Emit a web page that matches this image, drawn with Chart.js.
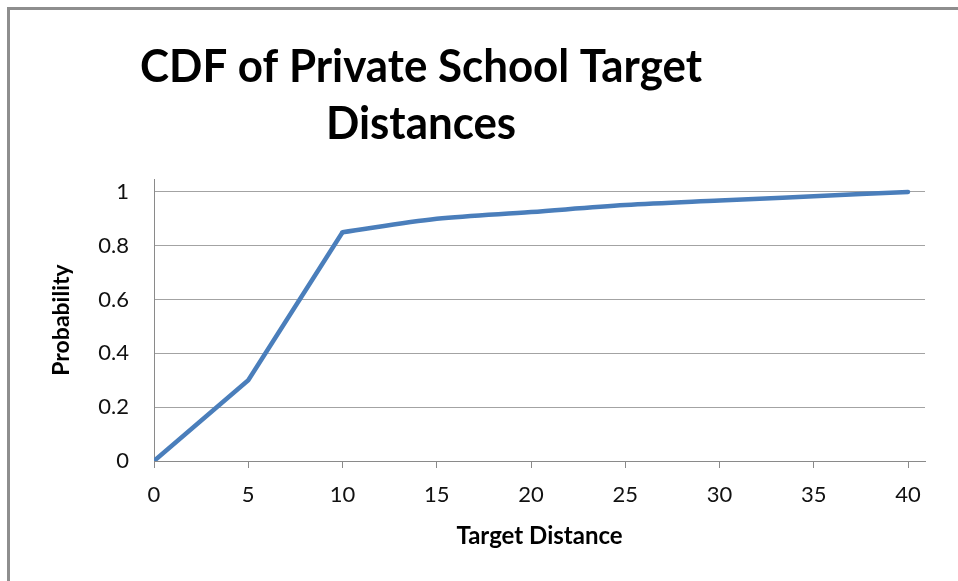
<!DOCTYPE html>
<html>
<head>
<meta charset="utf-8">
<title>CDF of Private School Target Distances</title>
<script src="https://cdn.jsdelivr.net/npm/chart.js@4"></script>
<style>
  html, body { margin: 0; padding: 0; background: #fff; }
  #frame {
    position: absolute; left: 7px; top: 7px; width: 951px; height: 574px;
    border-top: 3px solid #8e8e8e; border-left: 3px solid #8e8e8e;
  }
  #wrap { position: absolute; left: 0; top: 0; width: 958px; height: 581px; }
</style>
</head>
<body>
<div id="frame"></div>
<div id="wrap"><canvas id="cdfChart"></canvas></div>
<script>
const distances = [0, 5, 10, 15, 20, 25, 30, 35, 40];
const probabilities = [0, 0.30, 0.85, 0.90, 0.925, 0.951, 0.968, 0.984, 1.0];
const xTicks = [0, 5, 10, 15, 20, 25, 30, 35, 40];
const yTicks = [0, 0.2, 0.4, 0.6, 0.8, 1];
const titleLines = ['CDF of Private School Target', 'Distances'];

const FONT = 'Lato';
const tickFont = { family: FONT, size: 22 };
const LINE_BLUE = '#4a7ebb';

// steep part is straight, the tail after the knee (index 2) is smoothed
const points = distances.map((d, i) => ({ x: d, y: probabilities[i] }));
const KNEE = 2;

// two-line bold title, squeezed slightly so it keeps the narrow look
const titlePlugin = {
  id: 'cdfTitle',
  afterDraw(chart) {
    const c = chart.ctx;
    c.save();
    c.font = `bold 46px ${FONT}`;
    c.fillStyle = '#000';
    c.textAlign = 'center';
    c.textBaseline = 'alphabetic';
    const k = Math.min(1, 562 / c.measureText(titleLines[0]).width);
    c.translate(421, 0);
    c.scale(k, 1);
    c.fillText(titleLines[0], 0, 82);
    c.fillText(titleLines[1], 0, 139);
    c.restore();
  }
};

const ctx = document.getElementById('cdfChart').getContext('2d');
new Chart(ctx, {
  type: 'line',
  data: {
    datasets: [
      {
        data: points.slice(0, KNEE + 1),
        borderColor: LINE_BLUE,
        borderWidth: 4.5,
        pointRadius: 0,
        tension: 0,
        fill: false
      },
      {
        data: points.slice(KNEE),
        borderColor: LINE_BLUE,
        borderWidth: 4.5,
        borderCapStyle: 'round',
        pointRadius: 0,
        cubicInterpolationMode: 'monotone',
        fill: false
      }
    ]
  },
  options: {
    responsive: true,
    maintainAspectRatio: false,
    animation: false,
    layout: { padding: { top: 179, left: 40, right: 33, bottom: 0 } },
    plugins: {
      legend: { display: false },
      tooltip: { enabled: false }
    },
    scales: {
      x: {
        type: 'linear',
        min: 0,
        max: 40.9,
        afterBuildTicks: s => { s.ticks = xTicks.map(v => ({ value: v })); },
        afterFit: s => { s.height = 120; },
        grid: { drawOnChartArea: false, drawTicks: true, tickLength: 7, color: '#8a8a8a' },
        border: { color: '#8a8a8a', width: 1 },
        ticks: { font: tickFont, color: '#111', padding: 14, maxRotation: 0, autoSkip: false },
        title: {
          display: true, text: 'Target Distance', color: '#000',
          font: { family: FONT, size: 24, weight: 'bold' },
          padding: { top: 0, bottom: 30 }
        }
      },
      y: {
        min: 0,
        max: 1.048,
        afterBuildTicks: s => { s.ticks = yTicks.map(v => ({ value: v })); },
        afterFit: s => { s.width = 114; },
        grid: { color: '#a3a3a3', drawTicks: false },
        border: { color: '#8a8a8a', width: 1 },
        ticks: {
          font: tickFont, color: '#111', padding: 25,
          callback: v => String(+v.toFixed(1))
        },
        title: {
          display: true, text: 'Probability', color: '#000',
          font: { family: FONT, size: 23, weight: 'bold' },
          padding: { top: 8, bottom: 0 }
        }
      }
    }
  },
  plugins: [titlePlugin]
});
</script>
</body>
</html>
